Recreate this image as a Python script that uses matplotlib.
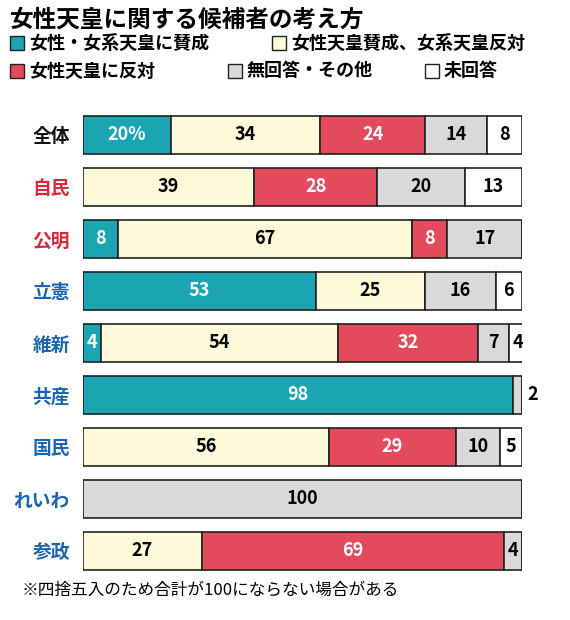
import matplotlib
matplotlib.use("Agg")
import matplotlib.pyplot as plt
from matplotlib.patches import Rectangle

plt.rcParams['font.family'] = ['Noto Sans CJK JP', 'DejaVu Sans']

parties = ['全体', '自民', '公明', '立憲', '維新', '共産', '国民', 'れいわ', '参政']
party_colors = ['#111111', '#d8283a', '#d8283a', '#1a64b0', '#1a64b0', '#1a64b0',
                '#1a64b0', '#1a64b0', '#1a64b0']
series = ['女性・女系天皇に賛成', '女性天皇賛成、女系天皇反対', '女性天皇に反対',
          '無回答・その他', '未回答']
both_yes = [20, 0, 8, 53, 4, 98, 0, 0, 0]
female_only = [34, 39, 67, 25, 54, 0, 56, 0, 27]
oppose = [24, 28, 8, 0, 32, 0, 29, 0, 69]
no_answer = [14, 20, 17, 16, 7, 2, 10, 100, 4]
unanswered = [8, 13, 0, 6, 4, 0, 5, 0, 0]
data = [both_yes, female_only, oppose, no_answer, unanswered]
colors = ['#1ba5b2', '#fdf9d9', '#e34b5c', '#d9d9d9', '#ffffff']
text_colors = ['white', 'black', 'white', 'black', 'black']

fig = plt.figure(figsize=(5.7, 6.2), dpi=100)
ax = fig.add_axes([83 / 570, 1 - 577 / 620, (522 - 83) / 570, (577 - 109) / 620])

left = [0] * len(parties)
for vals, c, tc in zip(data, colors, text_colors):
    ax.barh(range(len(parties)), vals, left=left, height=0.73, color=c,
            edgecolor='#222222', linewidth=1.2)
    for i, v in enumerate(vals):
        if v > 0:
            x = left[i] + v / 2
            col = tc
            if v <= 2:
                x = left[i] + v + 2.5
                col = 'black'
            label = f'{v}%' if (i == 0 and c == colors[0]) else str(v)
            ax.text(x, i, label, ha='center', va='center', color=col,
                    fontsize=13, fontweight='bold', clip_on=False)
    left = [l + v for l, v in zip(left, vals)]

ax.set_xlim(0, 100)
ax.set_ylim(8.5, -0.5)
ax.set_yticks(range(len(parties)))
ax.set_yticklabels(parties, fontsize=13.5, fontweight='bold')
for t, c in zip(ax.get_yticklabels(), party_colors):
    t.set_color(c)
ax.tick_params(left=False, bottom=False, labelbottom=False, pad=6)
for s in ax.spines.values():
    s.set_visible(False)

fig.text(10 / 570, 1 - 20 / 620, '女性天皇に関する候補者の考え方', fontsize=17,
         fontweight='bold', va='center')

legend_pos = [(10, 43), (272, 43), (10, 71), (228, 71), (425, 71)]
for (x, y), c, name in zip(legend_pos, colors, series):
    fig.patches.append(Rectangle((x / 570, 1 - (y + 7) / 620), 14 / 570, 14 / 620,
                                 transform=fig.transFigure, facecolor=c,
                                 edgecolor='#222222', linewidth=1))
    fig.text((x + 19) / 570, 1 - y / 620, name, fontsize=13, fontweight='bold',
             va='center')

fig.text(22 / 570, 1 - 590 / 620, '※四捨五入のため合計が100にならない場合がある',
         fontsize=12, va='center')

fig.savefig('out.png', dpi=100)
